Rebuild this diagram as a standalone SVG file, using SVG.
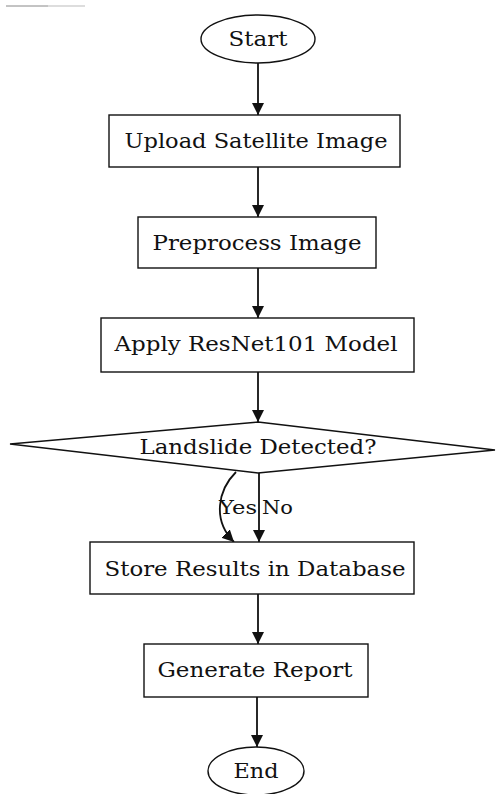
<svg xmlns="http://www.w3.org/2000/svg" width="496" height="794" viewBox="0 0 496 794">
<style>
.n{fill:#fff;stroke:#111;stroke-width:1.4}
.t{font-family:"DejaVu Serif","Liberation Serif",serif;font-size:21px;fill:#111;text-anchor:middle;dominant-baseline:central}
.l{font-family:"DejaVu Serif","Liberation Serif",serif;font-size:19px;fill:#111}
.c{fill:none;stroke:#111;stroke-width:1.8}
</style>
<defs>
<marker id="ah" viewBox="0 0 12 12" refX="12" refY="6" markerWidth="12" markerHeight="12" markerUnits="userSpaceOnUse" orient="auto">
<path d="M0,0 L12,6 L0,12 z" fill="#111"/>
</marker>
</defs>
<rect width="496" height="794" fill="#fff"/>
<line x1="6" y1="6" x2="48" y2="6" stroke="#888" stroke-width="1"/>
<line x1="48" y1="6" x2="85" y2="6" stroke="#bbb" stroke-width="1"/>
<g id="connectors">
<path class="c" d="M258,63 V115" marker-end="url(#ah)"/>
<path class="c" d="M258,167 V217" marker-end="url(#ah)"/>
<path class="c" d="M258,268 V318" marker-end="url(#ah)"/>
<path class="c" d="M258,372 V422" marker-end="url(#ah)"/>
<path class="c" d="M236,472 C218,490 212,520 234,542" marker-end="url(#ah)"/>
<path class="c" d="M259,473 V542" marker-end="url(#ah)"/>
<path class="c" d="M258,594 V644" marker-end="url(#ah)"/>
<path class="c" d="M257,697 V747" marker-end="url(#ah)"/>
<text class="l" x="219" y="514" textLength="38" lengthAdjust="spacingAndGlyphs">Yes</text>
<text class="l" x="262" y="514" textLength="31" lengthAdjust="spacingAndGlyphs">No</text>
</g>
<g id="start"><ellipse class="n" cx="258" cy="39" rx="57" ry="24"/><text class="t" x="258" y="39" textLength="59" lengthAdjust="spacingAndGlyphs">Start</text></g>
<g id="upload"><rect class="n" x="109" y="115" width="291" height="52"/><text class="t" x="256" y="141" textLength="263" lengthAdjust="spacingAndGlyphs">Upload Satellite Image</text></g>
<g id="preprocess"><rect class="n" x="138" y="217" width="238" height="51"/><text class="t" x="257" y="243" textLength="209" lengthAdjust="spacingAndGlyphs">Preprocess Image</text></g>
<g id="apply"><rect class="n" x="101" y="318" width="313" height="54"/><text class="t" x="256" y="344" textLength="283" lengthAdjust="spacingAndGlyphs">Apply ResNet101 Model</text></g>
<g id="decision"><polygon class="n" points="258,422 495,450 258,473 10,444"/><text class="t" x="258" y="447" textLength="237" lengthAdjust="spacingAndGlyphs">Landslide Detected?</text></g>
<g id="store"><rect class="n" x="90" y="542" width="324" height="52"/><text class="t" x="255" y="569" textLength="301" lengthAdjust="spacingAndGlyphs">Store Results in Database</text></g>
<g id="report"><rect class="n" x="144" y="644" width="224" height="53"/><text class="t" x="255" y="670" textLength="195" lengthAdjust="spacingAndGlyphs">Generate Report</text></g>
<g id="end"><ellipse class="n" cx="256" cy="771" rx="48" ry="24"/><text class="t" x="256" y="771" textLength="45" lengthAdjust="spacingAndGlyphs">End</text></g>
</svg>
